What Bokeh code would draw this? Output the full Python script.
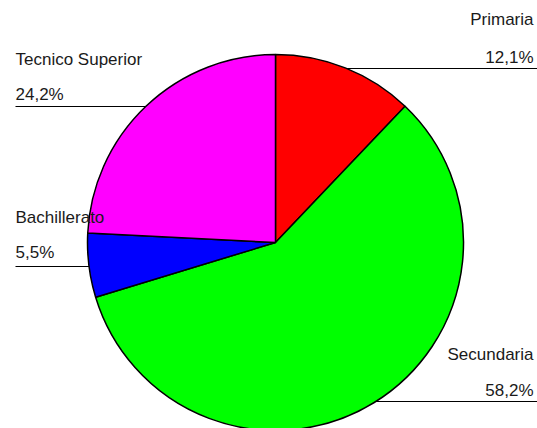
import math
from bokeh.plotting import figure
from bokeh.models import Range1d, ColumnDataSource
from bokeh.core.properties import value
from bokeh.embed import file_html
from bokeh.resources import INLINE

categories = ["Primaria", "Secundaria", "Bachillerato", "Tecnico Superior"]
percent = [12.1, 58.2, 5.5, 24.2]
pct_labels = ["12,1%", "58,2%", "5,5%", "24,2%"]
colors = ["#FF0000", "#00FF00", "#0000FF", "#FF00FF"]

W, H = 537, 428
cx, cy, r = 275, H - 242, 188

p = figure(width=W, height=H, output_backend="svg", toolbar_location=None,
           x_range=Range1d(0, W), y_range=Range1d(0, H), min_border=0)
p.axis.visible = False
p.grid.visible = False
p.outline_line_color = None
p.background_fill_color = "white"
p.border_fill_color = "white"

total = sum(percent)
starts, ends = [], []
cum = 0.0
for v in percent:
    starts.append(math.pi / 2 - 2 * math.pi * cum / total)
    cum += v
    ends.append(math.pi / 2 - 2 * math.pi * cum / total)

src = ColumnDataSource(dict(start=starts, end=ends, color=colors, cat=categories))
p.wedge(x=cx, y=cy, radius=r, start_angle="start", end_angle="end",
        direction="clock", fill_color="color", line_color="black", line_width=1.5,
        source=src)

# label layout: (side, name baseline px, pct baseline px, line px)
layout = {
    "Primaria": ("right", 24, 62, 68),
    "Secundaria": ("right", 359, 395, 401),
    "Bachillerato": ("left", 222, 257, 266),
    "Tecnico Superior": ("left", 64, 99, 106),
}
shift = 5
font = value("Liberation Sans")
for cat, lab in zip(categories, pct_labels):
    side, yn, yp, yl = layout[cat]
    dy = abs((H - yl) - cy)
    edge = math.sqrt(max(r * r - dy * dy, 0))
    if side == "right":
        x_txt, align = 533, "right"
        x0, x1 = cx + edge, W
    else:
        x_txt, align = 15, "left"
        x0, x1 = 15, cx - edge
    p.text(x=[x_txt], y=[H - yn + shift], text=[cat], text_font=font, text_font_size="17px",
           text_align=align, text_baseline="alphabetic", text_color="#1a1a1a")
    p.text(x=[x_txt], y=[H - yp + shift], text=[lab], text_font=font, text_font_size="17px",
           text_align=align, text_baseline="alphabetic", text_color="#1a1a1a")
    p.segment(x0=[x0], y0=[H - yl], x1=[x1], y1=[H - yl], line_color="black", line_width=1.2)

open("out.html", "w").write(file_html(p, INLINE))
